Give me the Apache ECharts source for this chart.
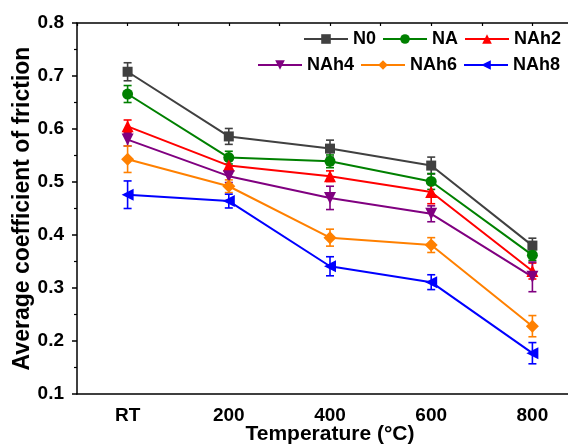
<!DOCTYPE html>
<html>
<head>
<meta charset="utf-8">
<script src="https://cdn.jsdelivr.net/npm/echarts@6/dist/echarts.min.js"></script>
<style>
  html, body { margin: 0; padding: 0; background: #fff; }
  #chart { width: 568px; height: 448px; }
</style>
</head>
<body>
<div id="chart"></div>
<script>
// Temperature steps on the x axis
const categories = ['RT', '200', '400', '600', '800'];

// Mean coefficient of friction per sample
const n0   = [0.708, 0.586, 0.563, 0.531, 0.380];
const na   = [0.666, 0.546, 0.539, 0.501, 0.362];
const nah2 = [0.605, 0.531, 0.511, 0.481, 0.332];
const nah4 = [0.580, 0.511, 0.470, 0.440, 0.321];
const nah6 = [0.543, 0.492, 0.395, 0.381, 0.228];
const nah8 = [0.476, 0.464, 0.341, 0.311, 0.177];

// Standard deviation (error bar half-length)
const n0Err   = [0.017, 0.015, 0.016, 0.016, 0.014];
const naErr   = [0.016, 0.012, 0.012, 0.015, 0.010];
const nah2Err = [0.012, 0.010, 0.010, 0.022, 0.015];
const nah4Err = [0.012, 0.012, 0.022, 0.015, 0.028];
const nah6Err = [0.025, 0.012, 0.016, 0.014, 0.020];
const nah8Err = [0.026, 0.013, 0.018, 0.014, 0.020];

// Y axis ticks
const yMin = 0.1, yMax = 0.8, yStep = 0.1;

const FONT = '"Liberation Sans", Arial, sans-serif';

const samples = [
  { name: 'N0',   values: n0,   err: n0Err,   color: '#404040', symbol: 'rect',     size: 10, rotate: 0 },
  { name: 'NA',   values: na,   err: naErr,   color: '#008000', symbol: 'circle',   size: 11, rotate: 0 },
  { name: 'NAh2', values: nah2, err: nah2Err, color: '#FF0000', symbol: 'triangle', size: 12, rotate: 0 },
  { name: 'NAh4', values: nah4, err: nah4Err, color: '#800080', symbol: 'triangle', size: 12, rotate: 180 },
  { name: 'NAh6', values: nah6, err: nah6Err, color: '#FF8000', symbol: 'diamond',  size: 13, rotate: 0 },
  { name: 'NAh8', values: nah8, err: nah8Err, color: '#0000FF', symbol: 'triangle', size: 12, rotate: 90 }
];

function errorBarRenderer(color) {
  return function (params, api) {
    const idx = api.value(0);
    const lo = api.coord([idx, api.value(1)]);
    const hi = api.coord([idx, api.value(2)]);
    const cap = 4;
    const style = { stroke: color, lineWidth: 1.6 };
    return {
      type: 'group',
      children: [
        { type: 'line', shape: { x1: hi[0], y1: hi[1], x2: lo[0], y2: lo[1] }, style: style },
        { type: 'line', shape: { x1: hi[0] - cap, y1: hi[1], x2: hi[0] + cap, y2: hi[1] }, style: style },
        { type: 'line', shape: { x1: lo[0] - cap, y1: lo[1], x2: lo[0] + cap, y2: lo[1] }, style: style }
      ]
    };
  };
}

const series = [];
samples.forEach(function (s) {
  series.push({
    type: 'custom',
    name: s.name + ' error',
    xAxisIndex: 0,
    renderItem: errorBarRenderer(s.color),
    data: s.values.map(function (v, i) { return [i, v - s.err[i], v + s.err[i]]; }),
    z: 3,
    silent: true
  });
  series.push({
    type: 'line',
    name: s.name,
    xAxisIndex: 0,
    data: s.values,
    symbol: s.symbol,
    symbolSize: s.size,
    symbolRotate: s.rotate,
    showAllSymbol: true,
    lineStyle: { color: s.color, width: 2 },
    itemStyle: { color: s.color },
    z: 4
  });
});

const legendText = { fontFamily: FONT, fontWeight: 'bold', fontSize: 18, color: '#000' };

const chart = echarts.init(document.getElementById('chart'), null, { renderer: 'canvas' });
chart.setOption({
  animation: false,
  backgroundColor: '#fff',
  grid: { left: 77, top: 23, width: 506, height: 371, containLabel: false, outerBoundsMode: 'none' },
  legend: [
    {
      data: ['N0', 'NA', 'NAh2'],
      left: 303, top: 30, width: 600, padding: 0,
      itemWidth: 44, itemHeight: 12, itemGap: 6,
      textStyle: legendText,
      selectedMode: false
    },
    {
      data: ['NAh4', 'NAh6', 'NAh8'],
      left: 257, top: 56, width: 600, padding: 0,
      itemWidth: 44, itemHeight: 12, itemGap: 6,
      textStyle: legendText,
      selectedMode: false
    }
  ],
  xAxis: [
    {
      type: 'category',
      data: categories,
      boundaryGap: true,
      position: 'bottom',
      name: 'Temperature (°C)',
      nameLocation: 'middle',
      nameGap: 30,
      nameMoveOverlap: false,
      nameTextStyle: { fontFamily: FONT, fontWeight: 'bold', fontSize: 21, color: '#000' },
      axisLine: { lineStyle: { color: '#000', width: 1.5 } },
      axisTick: { alignWithLabel: true, length: 5, lineStyle: { color: '#000', width: 1.5 } },
      axisLabel: { fontFamily: FONT, fontWeight: 'bold', fontSize: 19, color: '#000', margin: 12 },
      splitLine: { show: false }
    },
    {
      // minor ticks between the temperature steps
      type: 'category',
      data: categories,
      boundaryGap: true,
      position: 'bottom',
      axisLine: { show: false },
      axisTick: { length: 2.5, lineStyle: { color: '#000', width: 1.2 } },
      axisLabel: { show: false },
      splitLine: { show: false }
    },
    {
      // top frame
      type: 'value',
      position: 'top',
      min: 0, max: 10, interval: 1,
      axisLine: { show: true, lineStyle: { color: '#000', width: 1.5 } },
      axisTick: { show: true, inside: true, length: 3, lineStyle: { color: '#000', width: 1.2 } },
      axisLabel: { show: false },
      splitLine: { show: false }
    }
  ],
  yAxis: {
    type: 'value',
    min: yMin, max: yMax, interval: yStep,
    name: 'Average coefficient of friction',
    nameLocation: 'middle',
    nameGap: 43,
    nameMoveOverlap: false,
    nameTextStyle: { fontFamily: FONT, fontWeight: 'bold', fontSize: 23, color: '#000' },
    axisLine: { show: true, lineStyle: { color: '#000', width: 1.5 } },
    axisTick: { show: true, length: 5, lineStyle: { color: '#000', width: 1.5 } },
    minorTick: { show: true, splitNumber: 2, length: 3, lineStyle: { color: '#000', width: 1.2 } },
    axisLabel: {
      fontFamily: FONT, fontWeight: 'bold', fontSize: 19, color: '#000', margin: 13,
      formatter: function (v) { return v.toFixed(1); }
    },
    splitLine: { show: false }
  },
  series: series
});
</script>
</body>
</html>
